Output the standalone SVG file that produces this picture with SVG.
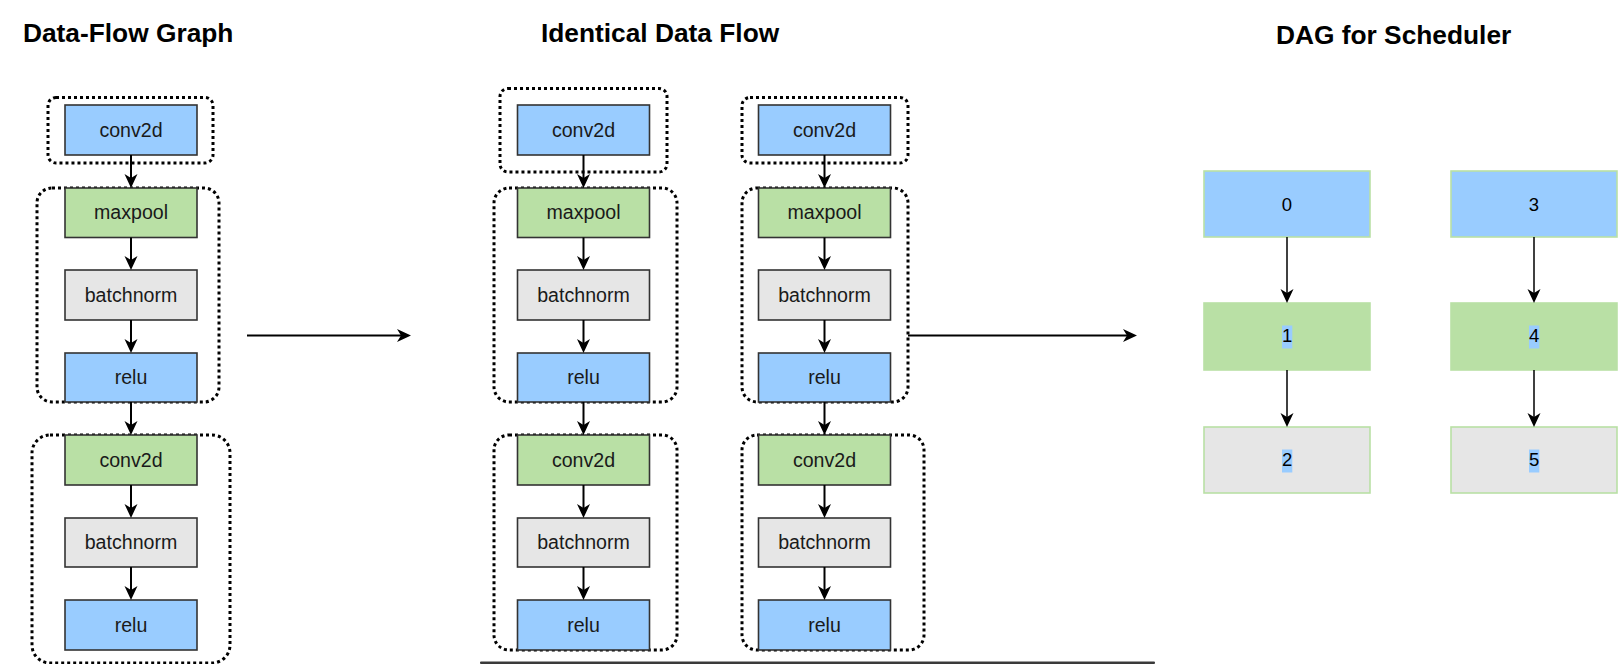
<svg xmlns="http://www.w3.org/2000/svg" width="1624" height="664" viewBox="0 0 1624 664">
<style>
.title{font-family:"Liberation Sans",Arial,Helvetica,sans-serif;font-size:26.3px;font-weight:bold;fill:#000}
.n rect{stroke:#333;stroke-width:1.6}
.blue{fill:#99CCFF}.green{fill:#B9E0A5}.gray{fill:#E6E6E6}
.lbl{font-family:"Liberation Sans",Arial,Helvetica,sans-serif;font-size:19.6px;fill:#1a1a1a;text-anchor:middle}
.grp{fill:none;stroke:#000;stroke-width:3;stroke-dasharray:3 3}
.edge{stroke:#000;stroke-width:2;fill:none;marker-end:url(#arr)}
.dedge{stroke:#000;stroke-width:1.5;fill:none;marker-end:url(#arr)}
.d rect.box{stroke:#B9E0A5;stroke-width:1.6}
.dlbl{font-family:"Liberation Sans",Arial,Helvetica,sans-serif;font-size:18.5px;fill:#000;text-anchor:middle}
.hl{fill:#99CCFF}
</style>
<defs>
<marker id="arr" markerUnits="userSpaceOnUse" markerWidth="15" markerHeight="14" refX="4" refY="6.5" orient="auto" viewBox="0 0 15 14">
<path d="M0,0 L14,6.5 L0,13 L4,6.5 Z" fill="#000"/>
</marker>
</defs>
<rect width="1624" height="664" fill="#ffffff"/>

<text class="title" x="23" y="42">Data-Flow Graph</text>
<text class="title" x="541" y="42">Identical Data Flow</text>
<text class="title" x="1276" y="44">DAG for Scheduler</text>

<!-- groups (dotted clusters) -->
<g id="clusters">
<rect id="cl-L1" class="grp" x="48" y="97.5" width="165" height="65.5" rx="8"/>
<rect id="cl-L2" class="grp" x="37" y="188" width="182" height="214" rx="15"/>
<rect id="cl-L3" class="grp" x="32" y="435" width="198" height="228" rx="18"/>
<rect id="cl-A1" class="grp" x="500" y="88.5" width="167" height="83.5" rx="8"/>
<rect id="cl-A2" class="grp" x="494" y="188" width="183" height="214" rx="15"/>
<rect id="cl-A3" class="grp" x="494" y="435" width="183" height="215" rx="15"/>
<rect id="cl-B1" class="grp" x="742" y="97.5" width="166" height="65.5" rx="8"/>
<rect id="cl-B2" class="grp" x="742" y="188" width="166" height="214" rx="15"/>
<rect id="cl-B3" class="grp" x="742" y="435" width="182" height="215" rx="15"/>
</g>

<!-- left column -->
<g id="L0" class="n"><rect class="blue" x="65" y="105" width="132" height="50"/><text class="lbl" x="131" y="136.8">conv2d</text></g>
<g id="L1" class="n"><rect class="green" x="65" y="188" width="132" height="49.5"/><text class="lbl" x="131" y="219.3">maxpool</text></g>
<g id="L2" class="n"><rect class="gray" x="65" y="270" width="132" height="50"/><text class="lbl" x="131" y="301.8">batchnorm</text></g>
<g id="L3" class="n"><rect class="blue" x="65" y="353" width="132" height="49"/><text class="lbl" x="131" y="384.3">relu</text></g>
<g id="L4" class="n"><rect class="green" x="65" y="435" width="132" height="50"/><text class="lbl" x="131" y="466.8">conv2d</text></g>
<g id="L5" class="n"><rect class="gray" x="65" y="518" width="132" height="49"/><text class="lbl" x="131" y="549.3">batchnorm</text></g>
<g id="L6" class="n"><rect class="blue" x="65" y="600" width="132" height="50"/><text class="lbl" x="131" y="631.8">relu</text></g>

<!-- middle column A -->
<g id="A0" class="n"><rect class="blue" x="517.5" y="105" width="132" height="50"/><text class="lbl" x="583.5" y="136.8">conv2d</text></g>
<g id="A1" class="n"><rect class="green" x="517.5" y="188" width="132" height="49.5"/><text class="lbl" x="583.5" y="219.3">maxpool</text></g>
<g id="A2" class="n"><rect class="gray" x="517.5" y="270" width="132" height="50"/><text class="lbl" x="583.5" y="301.8">batchnorm</text></g>
<g id="A3" class="n"><rect class="blue" x="517.5" y="353" width="132" height="49"/><text class="lbl" x="583.5" y="384.3">relu</text></g>
<g id="A4" class="n"><rect class="green" x="517.5" y="435" width="132" height="50"/><text class="lbl" x="583.5" y="466.8">conv2d</text></g>
<g id="A5" class="n"><rect class="gray" x="517.5" y="518" width="132" height="49"/><text class="lbl" x="583.5" y="549.3">batchnorm</text></g>
<g id="A6" class="n"><rect class="blue" x="517.5" y="600" width="132" height="50"/><text class="lbl" x="583.5" y="631.8">relu</text></g>

<!-- middle column B -->
<g id="B0" class="n"><rect class="blue" x="758.5" y="105" width="132" height="50"/><text class="lbl" x="824.5" y="136.8">conv2d</text></g>
<g id="B1" class="n"><rect class="green" x="758.5" y="188" width="132" height="49.5"/><text class="lbl" x="824.5" y="219.3">maxpool</text></g>
<g id="B2" class="n"><rect class="gray" x="758.5" y="270" width="132" height="50"/><text class="lbl" x="824.5" y="301.8">batchnorm</text></g>
<g id="B3" class="n"><rect class="blue" x="758.5" y="353" width="132" height="49"/><text class="lbl" x="824.5" y="384.3">relu</text></g>
<g id="B4" class="n"><rect class="green" x="758.5" y="435" width="132" height="50"/><text class="lbl" x="824.5" y="466.8">conv2d</text></g>
<g id="B5" class="n"><rect class="gray" x="758.5" y="518" width="132" height="49"/><text class="lbl" x="824.5" y="549.3">batchnorm</text></g>
<g id="B6" class="n"><rect class="blue" x="758.5" y="600" width="132" height="50"/><text class="lbl" x="824.5" y="631.8">relu</text></g>

<!-- DAG -->
<g id="D0" class="d"><rect class="box blue" x="1204" y="171" width="166" height="66"/><text class="dlbl" x="1287" y="210.5">0</text></g>
<g id="D1" class="d"><rect class="box green" x="1204" y="303" width="166" height="67"/><rect class="hl" x="1282" y="325.5" width="10.3" height="23"/><text class="dlbl" x="1287.2" y="342">1</text></g>
<g id="D2" class="d"><rect class="box gray" x="1204" y="427" width="166" height="66"/><rect class="hl" x="1282" y="449.5" width="10.3" height="23"/><text class="dlbl" x="1287.2" y="466">2</text></g>
<g id="D3" class="d"><rect class="box blue" x="1451" y="171" width="166" height="66"/><text class="dlbl" x="1534" y="210.5">3</text></g>
<g id="D4" class="d"><rect class="box green" x="1451" y="303" width="166" height="67"/><rect class="hl" x="1529" y="325.5" width="10.3" height="23"/><text class="dlbl" x="1534.2" y="342">4</text></g>
<g id="D5" class="d"><rect class="box gray" x="1451" y="427" width="166" height="66"/><rect class="hl" x="1529" y="449.5" width="10.3" height="23"/><text class="dlbl" x="1534.2" y="466">5</text></g>

<!-- connectors -->
<g id="connectors">
<path class="edge" d="M131,155 V178"/>
<path class="edge" d="M131,237.5 V260"/>
<path class="edge" d="M131,320 V343"/>
<path class="edge" d="M131,402 V425"/>
<path class="edge" d="M131,485 V508"/>
<path class="edge" d="M131,567 V590"/>
<path class="edge" d="M583.5,155 V178"/>
<path class="edge" d="M583.5,237.5 V260"/>
<path class="edge" d="M583.5,320 V343"/>
<path class="edge" d="M583.5,402 V425"/>
<path class="edge" d="M583.5,485 V508"/>
<path class="edge" d="M583.5,567 V590"/>
<path class="edge" d="M824.5,155 V178"/>
<path class="edge" d="M824.5,237.5 V260"/>
<path class="edge" d="M824.5,320 V343"/>
<path class="edge" d="M824.5,402 V425"/>
<path class="edge" d="M824.5,485 V508"/>
<path class="edge" d="M824.5,567 V590"/>
<path class="edge" d="M247,335.5 H401"/>
<path class="edge" d="M908,335.5 H1127"/>
<path class="dedge" d="M1287,237 V293"/>
<path class="dedge" d="M1287,370 V417"/>
<path class="dedge" d="M1534,237 V293"/>
<path class="dedge" d="M1534,370 V417"/>
</g>

<rect x="480" y="661.5" width="675" height="2.5" rx="1" fill="#3a3a3a"/>
</svg>
